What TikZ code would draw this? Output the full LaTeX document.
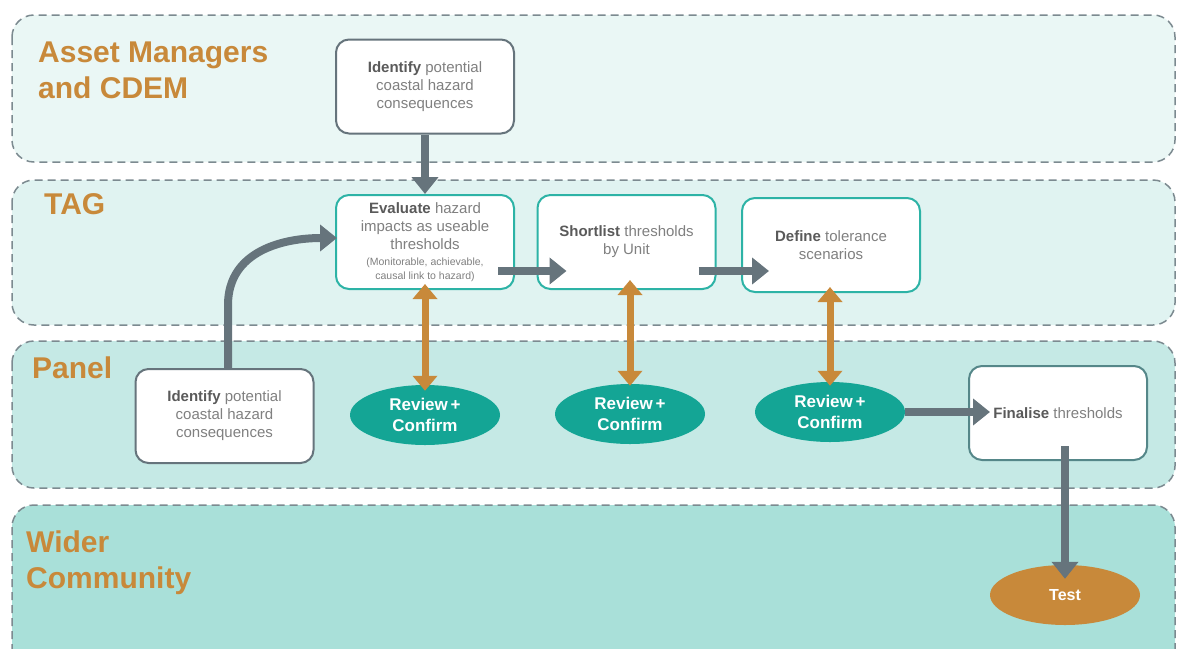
\documentclass[tikz,border=0pt]{standalone}
\usepackage{fontspec}
\setmainfont{Liberation Sans}
\usetikzlibrary{
    arrows.meta,
    positioning,
    shapes.geometric,
}
\definecolor{lanegray}{HTML}{7C8A90}
\definecolor{laneone}{HTML}{EAF7F5}
\definecolor{lanetwo}{HTML}{E0F3F1}
\definecolor{lanethree}{HTML}{C5E9E5}
\definecolor{lanefour}{HTML}{A9E0D9}
\definecolor{arrowgray}{HTML}{66747C}
\definecolor{ochre}{HTML}{C8893A}
\definecolor{teal}{HTML}{14A595}
\definecolor{tealline}{HTML}{2DB3A6}
\definecolor{textgray}{HTML}{808080}
\definecolor{darkgray}{HTML}{5A5A5A}
\tikzstyle{flow}=[-{Triangle[length=17pt, width=26pt]}, line width=8pt, arrowgray]
\tikzstyle{confirm}=[{Triangle[length=15pt, width=24pt]}-{Triangle[length=15pt, width=24pt]}, line width=7pt, ochre]
\tikzset{
    lane/.style={draw=lanegray, line width=1.5pt, dash pattern=on 8pt off 5pt, rounded corners=22pt},
    lanelabel/.style={anchor=base west, text=ochre, font=\fontsize{30}{36}\selectfont\bfseries, align=left, inner sep=0pt},
    stepbox/.style={draw=tealline, fill=white, line width=2pt, rounded corners=13pt,
        minimum width=178pt, minimum height=94pt, inner sep=2pt, align=center,
        text=textgray, font=\fontsize{15}{18}\selectfont},
    graybox/.style={stepbox, draw=arrowgray},
    review/.style={ellipse, fill=teal, minimum width=150pt, minimum height=60pt, inner sep=0pt,
        align=center, text=white, font=\fontsize{17}{21}\selectfont\bfseries},
}
\newcommand{\keyword}[1]{\textbf{\color{darkgray}#1}}
\begin{document}
\begin{tikzpicture}[x=1pt, y=-1pt]
    \useasboundingbox[fill=white] (0,0) rectangle (1177,648);
    % lanes
    \draw[lane, fill=laneone] (12,15) rectangle (1175,162);
    \draw[lane, fill=lanetwo] (12,180) rectangle (1175,325);
    \draw[lane, fill=lanethree] (12,341) rectangle (1175,488);
    \draw[lane, fill=lanefour] (12,505) rectangle (1175,680);
    \node[lanelabel] (assets) at (38,98) {Asset Managers\\and CDEM};
    \node[lanelabel] (tag) at (44,214) {TAG};
    \node[lanelabel] (panel) at (32,378) {Panel};
    \node[lanelabel] (wider) at (26,588) {Wider\\Community};

    % steps
    \node[graybox] (idtop) at (425,86.5) {\keyword{Identify} potential\\coastal hazard\\consequences};
    \node[stepbox] (eval) at (425,242) {\keyword{Evaluate} hazard\\impacts as useable\\thresholds\\[-2pt]
        {\fontsize{10.5}{13}\selectfont(Monitorable, achievable,}\\[-4pt]{\fontsize{10.5}{13}\selectfont causal link to hazard)}};
    \node[stepbox] (shortlist) at (626.5,242) {\keyword{Shortlist} thresholds\\by Unit};
    \node[stepbox] (define) at (831,245) {\keyword{Define} tolerance\\scenarios};
    \node[graybox] (idpanel) at (224.5,416) {\keyword{Identify} potential\\coastal hazard\\consequences};
    \node[stepbox, draw=arrowgray!70!tealline] (final) at (1058,413) {\keyword{Finalise} thresholds};
    \node[review] (rev1) at (425,415) {Review\,+\\Confirm};
    \node[review] (rev2) at (630,414) {Review\,+\\Confirm};
    \node[review] (rev3) at (830,412) {Review\,+\\Confirm};
    \node[review, fill=ochre, font=\fontsize{16}{20}\selectfont\bfseries] (test) at (1065,595) {Test};

    % connectors
    \draw[flow] (idtop.south) -- (eval.north);
    \draw[flow] ([xshift=3.5pt]idpanel.north) -- (228,305) .. controls (228,250) and (285,238) .. ([xshift=2pt,yshift=4pt]eval.west);
    \draw[flow] ([xshift=-17pt,yshift=19pt]eval.south east) -- ([xshift=30pt,yshift=19pt]shortlist.south west);
    \coordinate (s2) at ([xshift=-18pt,yshift=19pt]shortlist.south east);
    \draw[flow] (s2) -- ([xshift=28pt]define.west |- s2);
    \draw[confirm] ([yshift=6pt]eval.south) -- ([yshift=-6pt]rev1.north);
    \draw[confirm] ([yshift=10pt]shortlist.south -| rev2) -- ([yshift=-2pt]rev2.north);
    \draw[confirm] ([yshift=6pt]define.south -| rev3) -- ([yshift=-4pt]rev3.north);
    \draw[flow] (rev3.east) -- ([xshift=22pt]final.west |- rev3);
    \draw[flow] ([yshift=15pt]final.south -| test) -- ([yshift=-14pt]test.north);
\end{tikzpicture}
\end{document}
